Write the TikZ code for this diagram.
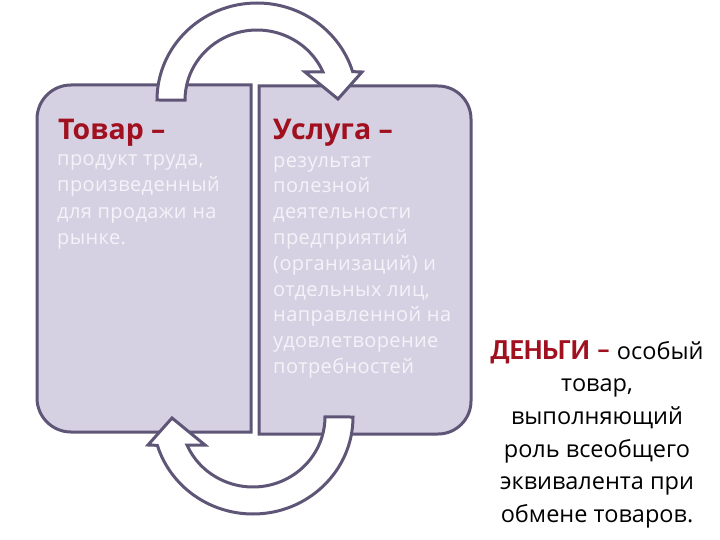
\documentclass[tikz,border=0pt]{standalone}
\usepackage{fontspec}
\setmainfont{Open Sans}
\newfontfamily\dengifont{Carlito}
\definecolor{boxfill}{HTML}{D5D1E3}
\definecolor{boxline}{HTML}{5F5677}
\definecolor{headred}{HTML}{A0101E}
\definecolor{bodywhite}{HTML}{F4F3F8}

\tikzset{
  boxpath/.style={draw=boxline, fill=boxfill, line width=3pt},
  headtext/.style={inner sep=0pt, anchor=base west, text=headred,
    font=\fontsize{28.5}{32}\selectfont\bfseries},
  bodytext/.style={inner sep=0pt, anchor=north west, align=left, text=bodywhite,
    font=\addfontfeature{LetterSpace=2}\fontsize{20}{#1}\selectfont},
  bodytext/.default=26.5,
  moneytext/.style={inner sep=0pt, anchor=north, align=center,
    font=\fontsize{23.5}{32.7}\selectfont},
  swaparrow/.pic={
    \draw[draw=boxline, fill=white, line width=3pt, line join=miter]
      (-100,0) arc[start angle=180, end angle=343, x radius=100, y radius=97]
      -- (105,-28) -- (81,-1) -- (48,-28) -- (66,-28)
      arc[start angle=336.4, end angle=180, x radius=72, y radius=70]
      -- cycle;
  }
}

\begin{document}
\begin{tikzpicture}[x=1pt, y=-1pt]
  \useasboundingbox (0,0) rectangle (720,540);

  \draw[boxpath] (251,85) -- (71,85)
    arc[start angle=270, end angle=180, radius=34] -- (37,398)
    arc[start angle=180, end angle=90, radius=34] -- (251,432) -- cycle;
  \draw[boxpath] (259,86) -- (438,86)
    arc[start angle=270, end angle=360, radius=33] -- (471,401)
    arc[start angle=0, end angle=90, radius=33] -- (259,434) -- cycle;

  \pic at (257,100) {swaparrow};
  \pic[rotate=180] at (253,417) {swaparrow};

  \node[headtext] (tovarhead) at (58,140) {Товар –};
  \node[bodytext] (tovarbody) at (57,154) {продукт труда,\\
    произведенный\\ для продажи на\\ рынке.};

  \node[headtext] (uslugahead) at (273,140) {Услуга –};
  \node[bodytext=25.8] (uslugabody) at (273,156) {результат\\ полезной\\
    деятельности\\ предприятий\\ (организаций) и\\ отдельных лиц,\\
    направленной на\\ удовлетворение\\ потребностей};

  \node[moneytext] (dengi) at (597,340)
    {{\dengifont\fontsize{29}{32.7}\selectfont\bfseries\color{headred}ДЕНЬГИ –}
    особый\\ товар,\\ выполняющий\\ роль всеобщего\\ эквивалента при\\
    обмене товаров.};
\end{tikzpicture}
\end{document}
